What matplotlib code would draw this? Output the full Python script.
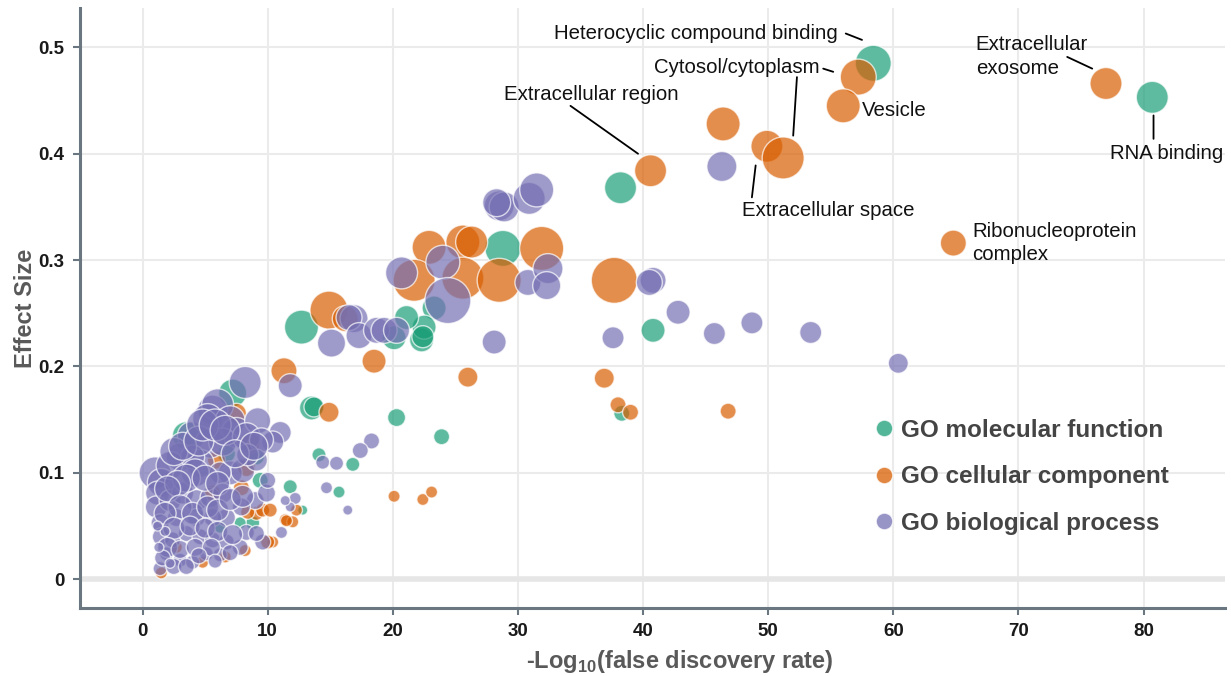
import matplotlib.pyplot as plt
from matplotlib.lines import Line2D

plt.rcParams['font.family'] = ['Liberation Sans', 'DejaVu Sans']
plt.rcParams['mathtext.fontset'] = 'custom'
plt.rcParams['mathtext.rm'] = 'Liberation Sans'
plt.rcParams['mathtext.bf'] = 'Liberation Sans:bold'

# GO molecular function: -log10(FDR), effect size, bubble radius (px)
mf_x = [58.4, 80.7, 38.2, 28.8, 23.3, 12.7, 20.1, 22.3, 22.5, 22.4, 21.1, 40.8,
        13.5, 13.7, 20.3, 23.9, 14.1, 16.8, 15.7, 11.8, 12.8, 38.3, 7.2, 3.5,
        6.7, 9.1, 9.4, 8.8, 7.8, 6.2]
mf_y = [0.485, 0.453, 0.368, 0.311, 0.255, 0.237, 0.227, 0.225, 0.237, 0.228, 0.246, 0.234,
        0.161, 0.162, 0.152, 0.134, 0.117, 0.108, 0.082, 0.087, 0.065, 0.156, 0.175, 0.135,
        0.118, 0.115, 0.093, 0.053, 0.053, 0.049]
mf_r = [18, 16, 16, 18, 12, 17, 12, 12, 12, 11, 12, 12,
        12, 10, 9, 8, 7, 7, 6, 7, 5, 8, 14, 14,
        9, 8, 8, 7, 6, 6]

# GO cellular component
cc_x = [57.2, 56.0, 77.0, 40.6, 46.4, 49.9, 51.2, 64.8, 37.7, 22.9, 25.6, 26.3,
        31.9, 21.7, 25.6, 28.5, 14.9, 16.2, 18.5, 11.3, 26.0, 14.9, 20.1, 22.4,
        23.1, 36.9, 38.0, 39.0, 46.8, 12.3, 11.4, 12.0, 11.5, 7.5, 8.6, 8.3,
        5.9, 7.9, 5.6, 9.1, 8.4, 9.6, 10.2, 10.4, 10.0, 8.2, 6.6, 4.8, 1.5, 2.7]
cc_y = [0.472, 0.445, 0.466, 0.384, 0.428, 0.407, 0.396, 0.316, 0.281, 0.312, 0.317, 0.317,
        0.311, 0.281, 0.283, 0.281, 0.253, 0.245, 0.205, 0.196, 0.190, 0.157, 0.078, 0.075,
        0.082, 0.189, 0.164, 0.157, 0.158, 0.065, 0.056, 0.054, 0.055, 0.156, 0.128, 0.105,
        0.112, 0.086, 0.081, 0.062, 0.063, 0.065, 0.065, 0.035, 0.035, 0.027, 0.021, 0.016,
        0.006, 0.030]
cc_r = [18, 17, 16, 16, 17, 16, 21, 13, 23, 17, 17, 16,
        22, 21, 21, 22, 19, 13, 12, 13, 10, 10, 6, 6,
        6, 10, 8, 8, 8, 6, 6, 6, 6, 10, 10, 9,
        9, 8, 8, 7, 7, 7, 7, 6, 7, 6, 6, 6, 6, 6]

# GO biological process
bp_x = [46.3, 28.5, 28.9, 30.9, 31.5, 28.3, 20.7, 24.0, 24.4, 30.8, 32.4, 32.3,
        15.1, 16.9, 16.5, 17.3, 18.7, 19.3, 20.3, 28.1, 11.8, 40.8, 40.5, 42.8,
        37.6, 45.7, 48.7, 53.4, 60.4, 18.3, 17.4, 14.4, 15.5, 14.7, 16.4, 12.2,
        11.8, 11.1, 11.4,
        8.2, 3.9, 5.6, 6.0, 5.2, 7.0, 7.5, 9.2, 11.0, 10.4, 5.4, 6.4, 8.3, 9.5,
        1.0, 1.5, 3.0, 2.2, 4.6, 4.0, 7.0, 8.0, 9.1, 8.4, 6.2, 9.0, 9.9, 7.9,
        10.0, 1.2, 1.1, 2.2, 3.2, 4.3, 5.4, 6.4, 6.7, 5.6, 4.3, 2.7, 1.4, 1.5,
        2.4, 3.5, 4.6, 5.6, 6.7, 7.8, 9.6, 8.3, 9.1, 1.4, 1.9, 3.0, 4.0, 5.1,
        6.2, 2.5, 3.2, 4.5, 4.8, 5.8, 6.6, 4.2, 3.5, 2.8, 5.0, 6.0, 7.4, 8.9,
        2.0, 3.0, 4.0, 5.2, 6.0, 7.0, 8.0, 1.8, 2.5, 3.8, 5.0, 6.0, 7.2, 2.0,
        3.0, 4.2, 5.5, 1.6, 2.5, 3.5, 4.5, 7.0, 5.8, 1.3, 1.8, 2.2, 1.2]
bp_y = [0.388, 0.351, 0.350, 0.358, 0.366, 0.354, 0.288, 0.298, 0.262, 0.279, 0.292, 0.276,
        0.222, 0.245, 0.246, 0.229, 0.234, 0.234, 0.234, 0.223, 0.182, 0.281, 0.279, 0.251,
        0.227, 0.231, 0.241, 0.232, 0.203, 0.130, 0.121, 0.110, 0.109, 0.086, 0.065, 0.076,
        0.068, 0.044, 0.074,
        0.185, 0.135, 0.159, 0.164, 0.151, 0.149, 0.138, 0.149, 0.138, 0.129, 0.128, 0.129,
        0.134, 0.131, 0.100, 0.091, 0.115, 0.107, 0.109, 0.115, 0.100, 0.102, 0.112, 0.117,
        0.100, 0.074, 0.081, 0.068, 0.093, 0.081, 0.068, 0.074, 0.081, 0.074, 0.077, 0.081,
        0.058, 0.058, 0.058, 0.058, 0.053, 0.040, 0.037, 0.043, 0.040, 0.037, 0.035, 0.030,
        0.035, 0.044, 0.043, 0.010, 0.024, 0.018, 0.016, 0.024, 0.023, 0.120, 0.125, 0.130,
        0.145, 0.145, 0.140, 0.100, 0.095, 0.090, 0.095, 0.090, 0.118, 0.125, 0.085, 0.068,
        0.062, 0.068, 0.065, 0.075, 0.078, 0.062, 0.048, 0.050, 0.048, 0.045, 0.042, 0.030,
        0.028, 0.030, 0.030, 0.020, 0.012, 0.012, 0.022, 0.025, 0.017, 0.030, 0.045, 0.015,
        0.050]
bp_r = [15, 15, 15, 16, 17, 14, 16, 17, 23, 13, 15, 14,
        14, 14, 13, 13, 13, 13, 13, 12, 12, 13, 13, 12,
        11, 11, 11, 11, 10, 8, 8, 7, 7, 6, 5, 6,
        5, 6, 5,
        16, 14, 15, 16, 15, 15, 15, 13, 11, 11, 15, 14, 14, 12,
        16, 14, 14, 14, 14, 12, 12, 12, 11, 11, 11, 9, 9, 9,
        8, 12, 11, 11, 11, 11, 10, 10, 9, 9, 9, 9, 9, 9,
        8, 8, 8, 8, 8, 8, 8, 8, 8, 7, 7, 7, 7, 7,
        7, 14, 14, 15, 16, 16, 15, 14, 14, 13, 13, 12, 14, 14,
        13, 12, 11, 11, 11, 11, 11, 11, 11, 10, 10, 10, 10, 10,
        9, 9, 9, 8, 8, 8, 8, 8, 7, 5, 5, 5, 5]

groups = [
    ('GO molecular function', '#1b9e77', mf_x, mf_y, mf_r),
    ('GO cellular component', '#d95f02', cc_x, cc_y, cc_r),
    ('GO biological process', '#7570b3', bp_x, bp_y, bp_r),
]

# labelled terms: text, text position, alignment, leader line (from, to)
labels = [
    ('Heterocyclic compound binding', (55.6, 0.513), 'right', ((56.2, 0.513), (57.5, 0.507))),
    ('Cytosol/cytoplasm', (54.1, 0.481), 'right', ((54.4, 0.480), (55.2, 0.477))),
    ('', (52.3, 0.472), 'left', ((52.3, 0.472), (52.0, 0.417))),
    ('Vesicle', (57.5, 0.441), 'left', None),
    ('Extracellular region', (28.9, 0.456), 'left', ((34.2, 0.445), (39.6, 0.400))),
    ('Extracellular space', (47.9, 0.347), 'left', ((49.0, 0.389), (48.7, 0.359))),
    ('Extracellular\nexosome', (66.6, 0.4915), 'left', ((73.9, 0.491), (75.9, 0.480))),
    ('RNA binding', (77.3, 0.400), 'left', ((80.8, 0.436), (80.8, 0.414))),
    ('Ribonucleoprotein\ncomplex', (66.3, 0.316), 'left', None),
]

spine_col = '#6b7780'

fig = plt.figure(figsize=(12.31, 6.76), dpi=100)
ax = fig.add_axes([0.065, 0.1006, 0.930, 0.8876])

for name, col, xs, ys, rs in groups:
    sizes = [(2 * r * 0.72) ** 2 for r in rs]
    ax.scatter(xs, ys, s=sizes, color=col, alpha=0.7, edgecolors='white',
               linewidths=1.0, zorder=3)

for text, pos, ha, seg in labels:
    if text:
        ax.text(pos[0], pos[1], text, ha=ha, va='center', fontsize=14.7,
                color='#111111', linespacing=1.3, zorder=5)
    if seg is not None:
        ax.annotate('', xy=seg[1], xytext=seg[0],
                    arrowprops=dict(arrowstyle='-', color='black', lw=1.3,
                                    shrinkA=0, shrinkB=0), zorder=5)

ax.set_xlim(-5.0, 86.5)
ax.set_ylim(-0.027, 0.537)
ax.set_xticks(range(0, 90, 10))
ax.set_yticks([0, 0.1, 0.2, 0.3, 0.4, 0.5])
ax.set_yticklabels(['0', '0.1', '0.2', '0.3', '0.4', '0.5'])

ax.grid(True, color='#ebebeb', lw=1.5, zorder=0)
ax.set_axisbelow(True)
ax.axhline(0, color='#e6e6e6', lw=4, zorder=1)

for side in ['top', 'right']:
    ax.spines[side].set_visible(False)
for side in ['left', 'bottom']:
    ax.spines[side].set_color(spine_col)
    ax.spines[side].set_linewidth(2.2)

ax.tick_params(length=5, width=1.5, color=spine_col, labelsize=13.5,
               labelcolor='#1a1a1a', pad=6)
for t in ax.get_xticklabels() + ax.get_yticklabels():
    t.set_fontweight('bold')

ax.set_xlabel(r'-Log$_{\mathbf{10}}$(false discovery rate)', fontsize=17,
              fontweight='bold', color='#595959')
ax.set_ylabel('Effect Size', fontsize=17, fontweight='bold', color='#595959')
ax.xaxis.set_label_coords(0.524, -0.066)
ax.yaxis.set_label_coords(-0.038, 0.5)

handles = [Line2D([], [], ls='none', marker='o', markersize=12, color=c,
                  alpha=0.75, markeredgecolor='white', label=n)
           for n, c, *_ in groups]
leg = ax.legend(handles=handles, loc='lower right', bbox_to_anchor=(0.962, 0.102),
                frameon=False, prop={'size': 17.5, 'weight': 'bold'},
                labelcolor='#444444', handletextpad=0.2, handlelength=1.0,
                labelspacing=0.96, borderpad=0)

fig.savefig('out.png', dpi=100)
